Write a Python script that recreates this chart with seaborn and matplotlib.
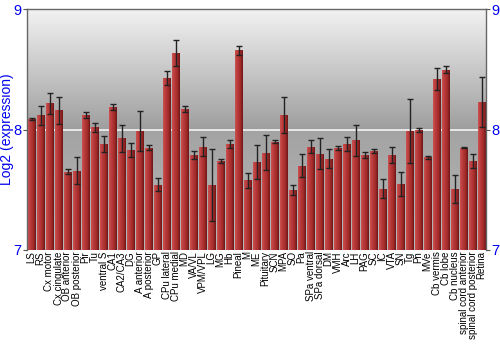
import numpy as np
import pandas as pd
import matplotlib
matplotlib.use("Agg")
import matplotlib.pyplot as plt
import seaborn as sns
from matplotlib.colors import LinearSegmentedColormap

regions = ["LS", "RS", "Cx motor", "Cx cingulate", "OB anterior", "OB posterior", "Pir", "Tu",
           "ventral S", "CA1", "CA2/CA3", "DG", "A anterior", "A posterior", "GP", "CPu lateral",
           "CPu medial", "MD", "VA/VL", "VPM/VPL", "LG", "MG", "Hb", "Pineal", "M", "ME",
           "Pituitary", "SCN", "MPA", "SO", "Pa", "SPa ventral", "SPa dorsal", "DM", "VMH", "Arc",
           "LH", "PAG", "SC", "IC", "VTA", "SN", "Tg", "Pn", "MVe", "Cb vermis", "Cb lobe",
           "Cb nucleus", "spinal cord anterior", "spinal cord posterior", "Retina"]
expression = [8.09, 8.12, 8.22, 8.16, 7.65, 7.66, 8.12, 8.02, 7.88, 8.19, 7.93, 7.83, 7.99, 7.85,
              7.54, 8.43, 8.64, 8.17, 7.79, 7.86, 7.54, 7.74, 7.88, 8.66, 7.58, 7.73, 7.81, 7.90,
              8.12, 7.50, 7.70, 7.86, 7.80, 7.76, 7.85, 7.88, 7.91, 7.79, 7.82, 7.51, 7.79, 7.55,
              7.99, 8.00, 7.77, 8.42, 8.50, 7.51, 7.85, 7.74, 8.23]
error = [0.01, 0.077, 0.086, 0.113, 0.02, 0.116, 0.025, 0.039, 0.065, 0.023, 0.112, 0.06, 0.165,
         0.02, 0.054, 0.057, 0.108, 0.027, 0.033, 0.075, 0.297, 0.017, 0.032, 0.037, 0.061, 0.14,
         0.142, 0.014, 0.15, 0.04, 0.094, 0.052, 0.13, 0.077, 0.018, 0.057, 0.133, 0.026, 0.018,
         0.079, 0.064, 0.1, 0.264, 0.017, 0.011, 0.093, 0.026, 0.116, 0.004, 0.06, 0.21]
yticks = [7, 8, 9]

df = pd.DataFrame({"region": regions, "expression": expression, "error": error})

sns.set_style("white")
plt.rcParams["font.family"] = ["Liberation Sans", "DejaVu Sans"]
fig = plt.figure(figsize=(5, 3.5), dpi=100)
ax = fig.add_axes([0.054, 0.286, 0.918, 0.687])

ymin, ymax = 7, 9
n = 400
yy = np.linspace(ymin, ymax, n)
vals = np.where(yy >= 8, 0.62 + (yy - 8) * (0.95 - 0.62), 0.72 - (yy - 7) * (0.72 - 0.64))
bg = np.dstack([vals, vals, vals]).reshape(n, 1, 3)
ax.imshow(bg, extent=[-0.5, len(regions) - 0.5, ymin, ymax], origin="lower",
          aspect="auto", zorder=0)
ax.axhline(8, color="#f4f4f4", lw=1.2, zorder=0.5)

sns.barplot(data=df, x="region", y="expression", color="#b03434", width=0.86,
            saturation=1, ax=ax, zorder=2, errorbar=None)

cmap = LinearSegmentedColormap.from_list("bar", ["#cc5252", "#b93a3a", "#a42c2c", "#701616"])
grad = np.linspace(0, 1, 64)[None, :]
for p in list(ax.patches):
    x0, w = p.get_x(), p.get_width()
    y0, h = p.get_y(), p.get_height()
    im = ax.imshow(grad, extent=[x0, x0 + w, ymin, y0 + h], cmap=cmap, aspect="auto",
                   zorder=2.1, origin="lower")
    im.set_clip_path(p)
    p.set_edgecolor("#c86a6a")
    p.set_linewidth(0.5)

ax.errorbar(np.arange(len(regions)), df["expression"], yerr=df["error"], fmt="none",
            ecolor="#222222", elinewidth=1.0, capsize=2, capthick=1.0, zorder=3)

ax.set_xlim(-0.5, len(regions) - 0.5)
ax.set_ylim(ymin, ymax)
ax.set_yticks(yticks)
ax.set_yticklabels([str(t) for t in yticks])
ax.tick_params(axis="y", colors="#555555", labelcolor="#0000ee", labelsize=10.5,
               left=True, right=True, labelleft=True, labelright=True, length=3, width=0.8,
               direction="out", pad=1)
ax.tick_params(axis="x", labelsize=7, length=0, pad=1, labelcolor="#000000")
plt.setp(ax.get_xticklabels(), rotation=90)
ax.set_xlabel("")
ax.set_ylabel("Log2 (expression)", color="#0000ee", fontsize=10)
ax.yaxis.set_label_coords(-0.028, 0.5)
for side in ["left", "right", "top"]:
    ax.spines[side].set_visible(True)
    ax.spines[side].set_color("#666666")
    ax.spines[side].set_linewidth(1.0)
ax.spines["bottom"].set_visible(False)

fig.savefig("out.png", dpi=100)
